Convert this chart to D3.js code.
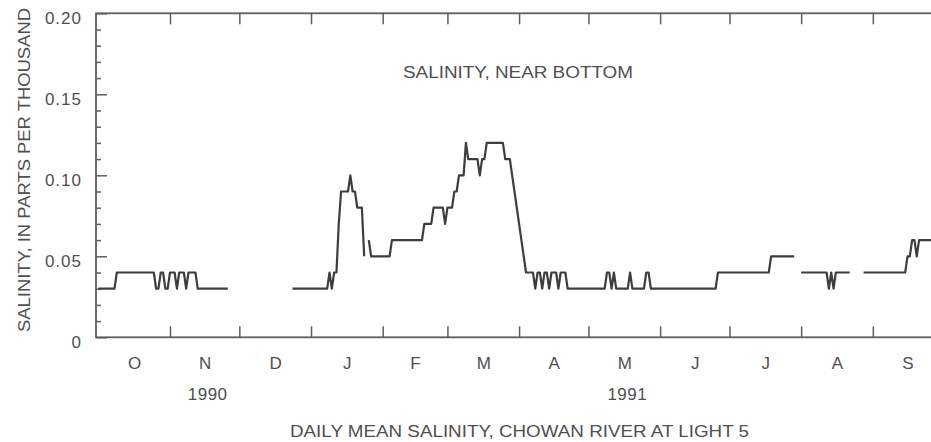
<!DOCTYPE html>
<html><head><meta charset="utf-8">
<script src="https://cdn.jsdelivr.net/npm/d3@7"></script>
<style>
body{margin:0;background:#fff}
svg{display:block}
</style>
</head><body><svg id="c" width="931" height="442"></svg>
<script>
// ---- data: daily mean salinity (ppt), null = missing record ----
const startDate = "1990-10-01";
const oct1990 = [.03,.03,.03,.03,.03,.03,.03,.03, .04,.04,.04,.04,.04,.04,.04,.04,.04,.04,.04,.04,.04,.04,.04,.04,.04, .03,.03,.04,.04,.03,.03];
const nov1990 = [.04,.04,.04,.03,.04,.04,.04,.03,.04,.04,.04,.04,.03, .03,.03,.03,.03,.03,.03,.03,.03,.03,.03,.03,.03,.03, null,null,null,null];
const dec1990 = [null,null,null,null,null,null,null,null,null,null,null,null,null,null,null,null,null,null,null,null,null,null,null, .03,.03,.03,.03,.03,.03,.03,.03];
const jan1991 = [.03,.03,.03,.03,.03,.03,.03, .03,.04,.03,.04,.04, .07,.09,.09,.09,.09,.10,.09,.09,.08,.08,.08,.05, null, .06,.05,.05,.05,.05,.05];
const feb1991 = [.05,.05,.05,.05, .06,.06,.06,.06,.06,.06,.06,.06,.06,.06,.06,.06,.06,.06, .07,.07,.07,.07, .08,.08,.08,.08,.08, .07];
const mar1991 = [.08,.08,.08, .09,.09, .10,.10,.10, .12, .11,.11,.11,.11,.11, .10, .11,.11, .12,.12,.12,.12,.12,.12,.12,.12, .11,.11,.11, .10, .09, .08];
const apr1991 = [.07,.06,.05,.04,.04,.04,.04,.03,.04,.04,.03,.04,.04,.03,.04,.04,.04,.03,.04,.04,.04, .03,.03,.03,.03,.03,.03,.03,.03,.03];
const may1991 = [.03,.03,.03,.03,.03,.03,.03,.03, .04,.04,.03,.04, .03,.03,.03,.03,.03,.03, .04, .03,.03,.03,.03,.03,.03, .04,.04, .03,.03,.03,.03];
const jun1991 = [.03,.03,.03,.03,.03,.03,.03,.03,.03,.03,.03,.03,.03,.03,.03,.03,.03,.03,.03,.03,.03,.03,.03,.03,.03, .04,.04,.04,.04,.04];
const jul1991 = [.04,.04,.04,.04,.04,.04,.04,.04,.04,.04,.04,.04,.04,.04,.04,.04,.04,.04, .05,.05,.05,.05,.05,.05,.05,.05,.05,.05,.05, null,null];
const aug1991 = [.04,.04,.04,.04,.04,.04,.04,.04,.04,.04,.04,.04, .03,.04,.03, .04,.04,.04,.04,.04,.04,.04, null,null,null,null,null, .04,.04,.04,.04];
const sep1991 = [.04,.04,.04,.04,.04,.04,.04,.04,.04,.04,.04,.04,.04,.04,.04, .05,.05, .06,.06, .05, .06,.06,.06,.06,.06,.06,.06,.06,.06,.06];

const monthLabels = ["O","N","D","J","F","M","A","M","J","J","A","S"];
const yearLabels = ["1990","1991"];
const yearLabelMonth = [1, 7];
const yMajorTicks = [0, 0.05, 0.10, 0.15, 0.20];
const yTickLabels = ["0","0.05","0.10","0.15","0.20"];
const yMinorTicks = [0.01,0.02,0.03,0.04,0.06,0.07,0.08,0.09,0.11,0.12,0.13,0.14,0.16,0.17,0.18,0.19];
const innerLabel = "SALINITY, NEAR BOTTOM";
const yTitle = "SALINITY, IN PARTS PER THOUSAND";
const bottomTitle = "DAILY MEAN SALINITY, CHOWAN RIVER AT LIGHT 5";

(function () {
// ---- build daily series ----
const parse = d3.timeParse("%Y-%m-%d");
const t0 = parse(startDate);
const values = [].concat(oct1990, nov1990, dec1990, jan1991, feb1991, mar1991, apr1991, may1991, jun1991, jul1991, aug1991, sep1991);
const series = values.map((v, i) => ({date: d3.timeDay.offset(t0, i), v}));

// ---- layout ----
const FONT = '"Liberation Sans", Arial, Helvetica, sans-serif';
const TXT = "#4f4f4f";
const AX = "#5e5e5e";
const mLeft = 96, mRight = 944.5, mTop = 13.3, mBottom = 337.3;

const x = d3.scaleTime()
  .domain([d3.timeDay.offset(t0, -1), d3.timeDay.offset(t0, 366)])
  .range([mLeft, mRight]);
const y = d3.scaleLinear().domain([0, 0.20]).range([mBottom, mTop]);

const svg = d3.select("#c");
svg.append("rect").attr("width", 931).attr("height", 442).attr("fill", "#fff");

const months = d3.timeMonth.range(t0, d3.timeMonth.offset(t0, 12));
const boundaries = d3.timeMonth.range(d3.timeMonth.offset(t0, 1), d3.timeMonth.offset(t0, 13));
const mids = months.map(m => new Date((+m + +d3.timeMonth.offset(m, 1)) / 2));

function styleAxis(g) {
  g.select(".domain").remove();
  g.selectAll("line").attr("stroke", AX).attr("stroke-width", 1.5);
  g.selectAll("text").attr("fill", TXT).attr("font-family", FONT).attr("font-size", 17);
}

svg.append("g").attr("transform", `translate(0,${mBottom})`)
  .call(d3.axisBottom(x).tickValues(boundaries).tickSize(-11).tickFormat(""))
  .call(styleAxis);
svg.append("g").attr("transform", `translate(0,${mTop})`)
  .call(d3.axisTop(x).tickValues(boundaries).tickSize(-11).tickFormat(""))
  .call(styleAxis);
svg.append("g").attr("transform", `translate(0,${mBottom})`)
  .call(d3.axisBottom(x).tickValues(mids).tickSize(0).tickPadding(20).tickFormat((d, i) => monthLabels[i]))
  .call(styleAxis);

svg.append("g").attr("transform", `translate(${mLeft},0)`)
  .call(d3.axisLeft(y).tickValues(yMinorTicks).tickSize(-5).tickFormat(""))
  .call(styleAxis);
svg.append("g").attr("transform", `translate(${mLeft},0)`)
  .call(d3.axisLeft(y).tickValues(yMajorTicks).tickSize(-11).tickPadding(14).tickFormat((d, i) => yTickLabels[i]))
  .call(styleAxis)
  .call(g => g.selectAll("text").attr("dy", "0.58em").attr("letter-spacing", 1));
svg.append("g").attr("transform", `translate(${mRight},0)`)
  .call(d3.axisRight(y).tickValues(yMinorTicks).tickSize(-5).tickFormat(""))
  .call(styleAxis);
svg.append("g").attr("transform", `translate(${mRight},0)`)
  .call(d3.axisRight(y).tickValues(yMajorTicks).tickSize(-11).tickFormat(""))
  .call(styleAxis);

svg.append("rect").attr("x", mLeft).attr("y", mTop)
  .attr("width", mRight - mLeft).attr("height", mBottom - mTop)
  .attr("fill", "none").attr("stroke", AX).attr("stroke-width", 1.8);

svg.append("g").selectAll("text").data(yearLabels).join("text")
  .attr("x", (d, i) => x(mids[yearLabelMonth[i]]) + 3)
  .attr("y", 400)
  .attr("text-anchor", "middle")
  .attr("font-family", FONT).attr("font-size", 17).attr("letter-spacing", 0.5).attr("fill", TXT)
  .text(d => d);

const line = d3.line()
  .defined(d => d.v != null)
  .x(d => x(d.date))
  .y(d => y(d.v));
svg.append("path").datum(series)
  .attr("d", line)
  .attr("fill", "none")
  .attr("stroke", "#3d3d3d")
  .attr("stroke-width", 2.2)
  .attr("stroke-linejoin", "round");

svg.append("text").attr("x", 518).attr("y", 78).attr("text-anchor", "middle")
  .attr("font-family", FONT).attr("font-size", 16).attr("fill", TXT)
  .attr("textLength", 230).attr("lengthAdjust", "spacingAndGlyphs")
  .text(innerLabel);

svg.append("text").attr("transform", "translate(30,170) rotate(-90)")
  .attr("text-anchor", "middle")
  .attr("font-family", FONT).attr("font-size", 16.5).attr("fill", TXT)
  .attr("textLength", 324).attr("lengthAdjust", "spacingAndGlyphs")
  .text(yTitle);

svg.append("text").attr("x", 519.5).attr("y", 437).attr("text-anchor", "middle")
  .attr("font-family", FONT).attr("font-size", 16.5).attr("fill", TXT)
  .attr("textLength", 459).attr("lengthAdjust", "spacingAndGlyphs")
  .text(bottomTitle);
})();
</script>
</body></html>
